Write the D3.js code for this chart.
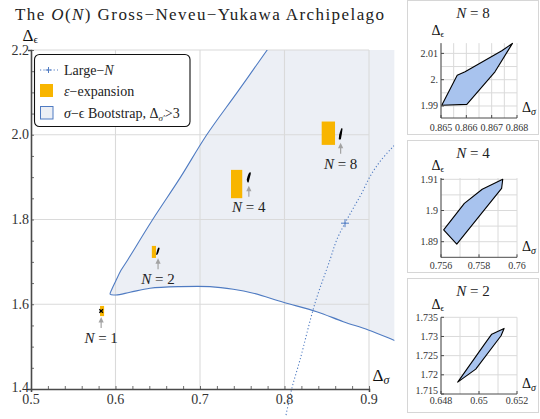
<!DOCTYPE html>
<html>
<head>
<meta charset="utf-8">
<script src="https://cdn.jsdelivr.net/npm/d3@7"></script>
<style>
  body { margin: 0; background: #fff; }
  svg { display: block; }
</style>
</head>
<body>
<svg id="chart" width="540" height="419"></svg>
<script>
// ---------- data ----------
const xTicks = [0.5, 0.6, 0.7, 0.8, 0.9];
const yTicks = [1.4, 1.6, 1.8, 2.0, 2.2];

// edge of the bootstrap-allowed region (Δσ, Δε), from the top edge round the tip to the right
const regionEdge = [
  [0.797, 2.25], [0.7795, 2.2], [0.744, 2.1], [0.708, 2.0], [0.677, 1.9], [0.644, 1.8],
  [0.6144, 1.7046], [0.6065, 1.68], [0.6003, 1.655], [0.5958, 1.636],
  [0.5937, 1.6236], [0.6006, 1.622], [0.6172, 1.6283], [0.6408, 1.6377], [0.6763, 1.6416],
  [0.7118, 1.6416], [0.7394, 1.6354], [0.7631, 1.626], [0.7986, 1.6047], [0.8381, 1.5825],
  [0.8696, 1.5589], [0.8992, 1.5393], [0.9288, 1.5157], [0.96, 1.49]
];

// large-N curve and its marked point
const largeN = [
  [0.8018, 1.3386], [0.8085, 1.4], [0.8183, 1.4685], [0.8361, 1.6024], [0.8538, 1.7046],
  [0.8618, 1.7518], [0.8716, 1.7913], [0.8814, 1.8267], [0.8914, 1.8621], [0.9012, 1.9014],
  [0.913, 1.9368], [0.9269, 1.9685], [0.94, 1.995]
];
const largeNMarks = [[0.8716, 1.7913]];

// ε-expansion estimates: ranges in Δσ and Δε
const epsN  = [1, 2, 4, 8];
const epsDs = [[0.5817, 0.5865], [0.6430, 0.6479], [0.7367, 0.7500], [0.8440, 0.8598]];
const epsDe = [[1.5720, 1.5960], [1.7093, 1.7377], [1.8503, 1.9171], [1.9761, 2.0312]];

// bootstrap islands
const islandN1 = [0.583, 1.584];
const islandN2 = [[0.64888, 1.7181], [0.65032, 1.7282], [0.65067, 1.7306], [0.65132, 1.7321],
                  [0.65116, 1.7302], [0.64983, 1.7215]];
const islandN4 = [[0.75614, 1.8938], [0.75723, 1.9023], [0.75817, 1.9068], [0.75925, 1.9100],
                  [0.75919, 1.9071], [0.75683, 1.8892]];
const islandN8 = [[0.86503, 1.9903], [0.86564, 2.0017], [0.86595, 2.0030], [0.86740, 2.0110],
                  [0.86782, 2.0138], [0.86713, 2.0030], [0.86602, 1.9906]];

// inset axes
const inset8XTicks = [0.865, 0.866, 0.867, 0.868];
const inset8XLabels = ["0.865", "0.866", "0.867", "0.868"];
const inset8YTicks = [1.99, 2.0, 2.01];
const inset8YLabels = ["1.99", "2.", "2.01"];
const inset4XTicks = [0.756, 0.758, 0.760];
const inset4XLabels = ["0.756", "0.758", "0.76"];
const inset4YTicks = [1.89, 1.90, 1.91];
const inset4YLabels = ["1.89", "1.9", "1.91"];
const inset2XTicks = [0.648, 0.650, 0.652];
const inset2XLabels = ["0.648", "0.65", "0.652"];
const inset2YTicks = [1.715, 1.72, 1.725, 1.73, 1.735];
const inset2YLabels = ["1.715", "1.72", "1.725", "1.73", "1.735"];

// ---------- styling ----------
const ORANGE = "#f8b500";
const BLUE = "#4f7bc2";
const REGION = "#eceff5";
const GRID = "#dadada";
const AXIS = "#4a4a4a";
const ISLAND = "#a8c3ee";
const FONT = "'Liberation Serif', 'DejaVu Serif', serif";

const svg = d3.select("#chart").attr("font-family", FONT);
const defs = svg.append("defs");
const txt = (sel) => sel.append("text").attr("font-family", FONT);

// ---------- title ----------
const title = txt(svg).attr("x", 15).attr("y", 20)
  .attr("font-size", 17).attr("textLength", 369).attr("fill", "#222");
title.append("tspan").text("The ");
title.append("tspan").attr("font-style", "italic").text("O");
title.append("tspan").text("(");
title.append("tspan").attr("font-style", "italic").text("N");
title.append("tspan").text(") Gross\u2212Neveu\u2212Yukawa  Archipelago");

// ---------- main panel ----------
const x = d3.scaleLinear().domain([0.5, 0.9]).range([31, 369]);
const y = d3.scaleLinear().domain([1.4, 2.2]).range([389, 50]);

defs.append("clipPath").attr("id", "clipRegion").append("rect")
  .attr("x", x(0.5)).attr("y", y(2.2)).attr("width", x(0.93) - x(0.5)).attr("height", y(1.4) - y(2.2));
defs.append("clipPath").attr("id", "clipLargeN").append("rect")
  .attr("x", x(0.5)).attr("y", y(2.2)).attr("width", x(0.93) - x(0.5)).attr("height", 419 - y(2.2));

const main = svg.append("g");

// allowed region
const regionFill = regionEdge.concat([[0.98, 1.49], [0.98, 2.3], [0.797, 2.3]]);
const smooth = d3.line().x(d => x(d[0])).y(d => y(d[1])).curve(d3.curveCatmullRom.alpha(0.5));
main.append("path").attr("clip-path", "url(#clipRegion)")
  .attr("d", d3.line().x(d => x(d[0])).y(d => y(d[1])).curve(d3.curveLinearClosed)(regionFill))
  .attr("fill", REGION);

// grid
main.append("g").selectAll("line").data(xTicks.slice(1)).join("line")
  .attr("x1", d => x(d)).attr("x2", d => x(d)).attr("y1", y(2.2)).attr("y2", y(1.4))
  .attr("stroke", GRID).attr("stroke-width", 1.1);
main.append("g").selectAll("line").data(yTicks.slice(1)).join("line")
  .attr("x1", x(0.5)).attr("x2", x(0.9)).attr("y1", d => y(d)).attr("y2", d => y(d))
  .attr("stroke", GRID).attr("stroke-width", 1.1);

// region edge
main.append("path").attr("clip-path", "url(#clipRegion)")
  .attr("d", smooth(regionEdge)).attr("fill", "none").attr("stroke", BLUE).attr("stroke-width", 1.1);

// large-N curve
const lnG = main.append("g").attr("clip-path", "url(#clipLargeN)");
lnG.append("path").attr("d", smooth(largeN)).attr("fill", "none")
  .attr("stroke", BLUE).attr("stroke-width", 1.1).attr("stroke-dasharray", "1.2,2.2");
lnG.selectAll("path.mk").data(largeNMarks).join("path").attr("class", "mk")
  .attr("transform", d => `translate(${x(d[0])},${y(d[1])})`)
  .attr("d", "M-4,0H4M0,-4V4").attr("stroke", BLUE).attr("stroke-width", 1);

// axes
const xAxis = d3.axisBottom(x).tickValues(d3.range(0.5, 0.9001, 0.02)).tickSize(3).tickFormat("");
const yAxis = d3.axisLeft(y).tickValues(d3.range(1.4, 2.2001, 0.05)).tickSize(3).tickFormat("");
const gx = main.append("g").attr("transform", `translate(0,${y(1.4)})`).call(xAxis);
const gy = main.append("g").attr("transform", `translate(${x(0.5)},0)`).call(yAxis);
[gx, gy].forEach(g => {
  g.select(".domain").attr("stroke", AXIS).attr("stroke-width", 1.6);
  g.selectAll(".tick line").attr("stroke", AXIS).attr("stroke-width", 0.8);
});
gx.selectAll(".tick line").attr("y2", -3);
gy.selectAll(".tick line").attr("x2", 3);

main.append("g").selectAll("text").data(xTicks).join("text").attr("font-family", FONT)
  .attr("x", d => x(d)).attr("y", y(1.4) + 15).attr("text-anchor", "middle")
  .attr("font-size", 14).attr("fill", "#333").text(d => d.toFixed(1));
main.append("g").selectAll("text").data(yTicks).join("text").attr("font-family", FONT)
  .attr("x", x(0.5) - 2).attr("y", (d, i) => y(d) + (i === 0 ? 3 : 4.5)).attr("text-anchor", "end")
  .attr("font-size", 14).attr("fill", "#333").text(d => d.toFixed(1));

// axis labels
const lblE = txt(main).attr("x", 22.5).attr("y", 40.5).attr("font-size", 17).attr("fill", "#111");
lblE.append("tspan").text("Δ");
lblE.append("tspan").attr("font-size", 11).attr("dy", 2.3).text("ϵ");
const lblS = txt(main).attr("x", 372.5).attr("y", 380.7).attr("font-size", 17).attr("fill", "#111");
lblS.append("tspan").text("Δ");
lblS.append("tspan").attr("font-size", 12).attr("dy", 3).attr("font-style", "italic").text("σ");

// ε-expansion rectangles
main.append("g").selectAll("rect").data(epsN).join("rect")
  .attr("x", (d, i) => x(epsDs[i][0])).attr("width", (d, i) => x(epsDs[i][1]) - x(epsDs[i][0]))
  .attr("y", (d, i) => y(epsDe[i][1])).attr("height", (d, i) => y(epsDe[i][0]) - y(epsDe[i][1]))
  .attr("fill", ORANGE);

// bootstrap islands in the main panel
const polyMain = d3.line().x(d => x(d[0])).y(d => y(d[1])).curve(d3.curveLinearClosed);
[islandN2, islandN4, islandN8].forEach(isl => {
  main.append("path").attr("d", polyMain(isl)).attr("fill", "#000")
    .attr("stroke", "#000").attr("stroke-width", 1.4).attr("stroke-linejoin", "round");
});
main.append("path").attr("transform", `translate(${x(islandN1[0])},${y(islandN1[1])})`)
  .attr("d", "M-1.8,-1.8L1.8,1.8M-1.8,1.8L1.8,-1.8").attr("stroke", "#000").attr("stroke-width", 1.3);

// arrows and N labels below each island
const islandSpots = [
  { n: 1, cx: islandN1[0], bottom: islandN1[1] },
  { n: 2, cx: d3.mean(islandN2, d => d[0]), bottom: d3.min(islandN2, d => d[1]) },
  { n: 4, cx: d3.mean(islandN4, d => d[0]), bottom: d3.min(islandN4, d => d[1]) },
  { n: 8, cx: d3.mean(islandN8, d => d[0]), bottom: d3.min(islandN8, d => d[1]) }
];
islandSpots.forEach(s => {
  const px = x(s.cx), py = y(s.bottom) + (s.n === 1 ? 2 : 0);
  main.append("line").attr("x1", px).attr("x2", px).attr("y1", py + 15).attr("y2", py + 8)
    .attr("stroke", "#a3a3a3").attr("stroke-width", 1.2);
  main.append("path").attr("d", `M${px},${py + 4}L${px - 2.6},${py + 9.5}L${px + 2.6},${py + 9.5}Z`)
    .attr("fill", "#a3a3a3");
  const t = txt(main).attr("x", px).attr("y", py + 30).attr("text-anchor", "middle")
    .attr("font-size", 15).attr("fill", "#222");
  t.append("tspan").attr("font-style", "italic").text("N");
  t.append("tspan").text(" = " + s.n);
});

// legend
const lg = svg.append("g");
lg.append("rect").attr("x", 34.5).attr("y", 54.5).attr("width", 155.5).attr("height", 72)
  .attr("rx", 5).attr("fill", "#fff").attr("stroke", "#111").attr("stroke-width", 1.1);
lg.append("line").attr("x1", 40).attr("x2", 58).attr("y1", 70).attr("y2", 70)
  .attr("stroke", BLUE).attr("stroke-width", 1.1).attr("stroke-dasharray", "1.2,2.2");
lg.append("path").attr("d", "M45.5,70H51.5M48.5,67V73").attr("stroke", BLUE).attr("stroke-width", 1);
lg.append("rect").attr("x", 40).attr("y", 84).attr("width", 13).attr("height", 13).attr("fill", ORANGE);
lg.append("rect").attr("x", 40.5).attr("y", 106.5).attr("width", 12.5).attr("height", 12.5)
  .attr("fill", REGION).attr("stroke", BLUE).attr("stroke-width", 1);
const lt1 = txt(lg).attr("x", 64).attr("y", 74.5).attr("font-size", 14).attr("fill", "#222");
lt1.append("tspan").text("Large\u2212");
lt1.append("tspan").attr("font-style", "italic").text("N");
const lt2 = txt(lg).attr("x", 64).attr("y", 96).attr("font-size", 14).attr("fill", "#222");
lt2.append("tspan").attr("font-style", "italic").text("ε");
lt2.append("tspan").text("\u2212expansion");
const lt3 = txt(lg).attr("x", 64).attr("y", 118).attr("font-size", 14).attr("fill", "#222");
lt3.append("tspan").attr("font-style", "italic").text("σ");
lt3.append("tspan").text("\u2212ϵ Bootstrap, Δ");
lt3.append("tspan").attr("font-size", 9).attr("dy", 2.5).attr("font-style", "italic").text("σ′");
lt3.append("tspan").attr("dy", -2.5).text(">3");

// ---------- insets ----------
function drawInset(o) {
  const g = svg.append("g");
  g.append("rect").attr("x", 407.5).attr("y", o.boxY + 0.5).attr("width", 131).attr("height", o.boxH)
    .attr("fill", "#fff").attr("stroke", "#d6d6d6").attr("stroke-width", 1);
  const sx = d3.scaleLinear().domain(o.xDom).range([441, 517]);
  const sy = d3.scaleLinear().domain(o.yDom).range(o.yRange);
  // grid
  g.append("g").selectAll("line").data(o.gridX).join("line")
    .attr("x1", d => sx(d)).attr("x2", d => sx(d)).attr("y1", sy(o.yTop)).attr("y2", sy(o.yDom[0]))
    .attr("stroke", GRID).attr("stroke-width", 1);
  g.append("g").selectAll("line").data(o.gridY).join("line")
    .attr("x1", sx(o.xDom[0])).attr("x2", sx(o.xDom[1])).attr("y1", d => sy(d)).attr("y2", d => sy(d))
    .attr("stroke", GRID).attr("stroke-width", 1);
  // island
  g.append("path")
    .attr("d", d3.line().x(d => sx(d[0])).y(d => sy(d[1])).curve(d3.curveLinearClosed)(o.island))
    .attr("fill", ISLAND).attr("stroke", "#000").attr("stroke-width", 1.1).attr("stroke-linejoin", "round");
  // axes
  g.append("line").attr("x1", sx(o.xDom[0])).attr("x2", sx(o.xDom[0]))
    .attr("y1", sy(o.yTop)).attr("y2", sy(o.yDom[0])).attr("stroke", AXIS).attr("stroke-width", 1);
  g.append("line").attr("x1", sx(o.xDom[0])).attr("x2", sx(o.xDom[1]))
    .attr("y1", sy(o.yDom[0])).attr("y2", sy(o.yDom[0])).attr("stroke", AXIS).attr("stroke-width", 1);
  g.append("g").selectAll("line").data(o.xTicks).join("line")
    .attr("x1", d => sx(d)).attr("x2", d => sx(d)).attr("y1", sy(o.yDom[0])).attr("y2", sy(o.yDom[0]) - 3)
    .attr("stroke", AXIS);
  g.append("g").selectAll("line").data(o.yTicks).join("line")
    .attr("x1", sx(o.xDom[0])).attr("x2", sx(o.xDom[0]) + 3).attr("y1", d => sy(d)).attr("y2", d => sy(d))
    .attr("stroke", AXIS);
  g.append("g").selectAll("text").data(o.xTicks).join("text").attr("font-family", FONT)
    .attr("x", d => sx(d)).attr("y", sy(o.yDom[0]) + o.xLabDy).attr("text-anchor", "middle")
    .attr("font-size", 10).attr("fill", "#333").text((d, i) => o.xLabels[i]);
  g.append("g").selectAll("text").data(o.yTicks).join("text").attr("font-family", FONT)
    .attr("x", sx(o.xDom[0]) - 3).attr("y", (d, i) => sy(d) + 3.4 - (o.liftFirst && i === 0 ? 3 : 0))
    .attr("text-anchor", "end")
    .attr("font-size", 10).attr("fill", "#333").text((d, i) => o.yLabels[i]);
  // labels
  const tt = txt(g).attr("x", 473).attr("y", o.boxY + 17.5).attr("text-anchor", "middle")
    .attr("font-size", 15).attr("fill", "#222");
  tt.append("tspan").attr("font-style", "italic").text("N");
  tt.append("tspan").text(" = " + o.n);
  const le = txt(g).attr("x", 431.5).attr("y", sy(o.yTop) - 8).attr("font-size", 14).attr("fill", "#111");
  le.append("tspan").text("Δ");
  le.append("tspan").attr("font-size", 8.5).attr("dy", 2).text("ϵ");
  const ls = txt(g).attr("x", 522).attr("y", sy(o.yDom[0]) - 6).attr("font-size", 14).attr("fill", "#111");
  ls.append("tspan").text("Δ");
  ls.append("tspan").attr("font-size", 10).attr("dy", 2.5).attr("font-style", "italic").text("σ");
}

drawInset({
  n: 8, boxY: 0, boxH: 134,
  xDom: [0.865, 0.868], yDom: [1.98543, 2.01], yRange: [118, 53.4], yTop: 2.0139,
  xTicks: inset8XTicks, xLabels: inset8XLabels, yTicks: inset8YTicks, yLabels: inset8YLabels,
  gridX: d3.range(0.865, 0.86801, 0.0005), gridY: [1.99, 1.995, 2.0, 2.005, 2.01],
  island: islandN8, xLabDy: 13
});
drawInset({
  n: 4, boxY: 140, boxH: 132,
  xDom: [0.756, 0.760], yDom: [1.885, 1.91], yRange: [257.3, 179.3], yTop: 1.9104,
  xTicks: inset4XTicks, xLabels: inset4XLabels, yTicks: inset4YTicks, yLabels: inset4YLabels,
  gridX: d3.range(0.756, 0.76001, 0.001), gridY: [1.89, 1.895, 1.9, 1.905, 1.91],
  island: islandN4, xLabDy: 12
});
drawInset({
  n: 2, boxY: 278, boxH: 134,
  xDom: [0.648, 0.652], yDom: [1.715, 1.735], yRange: [394, 317.3], yTop: 1.735,
  xTicks: inset2XTicks, xLabels: inset2XLabels, yTicks: inset2YTicks, yLabels: inset2YLabels,
  gridX: d3.range(0.648, 0.65201, 0.001), gridY: [1.72, 1.725, 1.73, 1.735],
  island: islandN2, xLabDy: 10, liftFirst: true
});
</script>
</body>
</html>
